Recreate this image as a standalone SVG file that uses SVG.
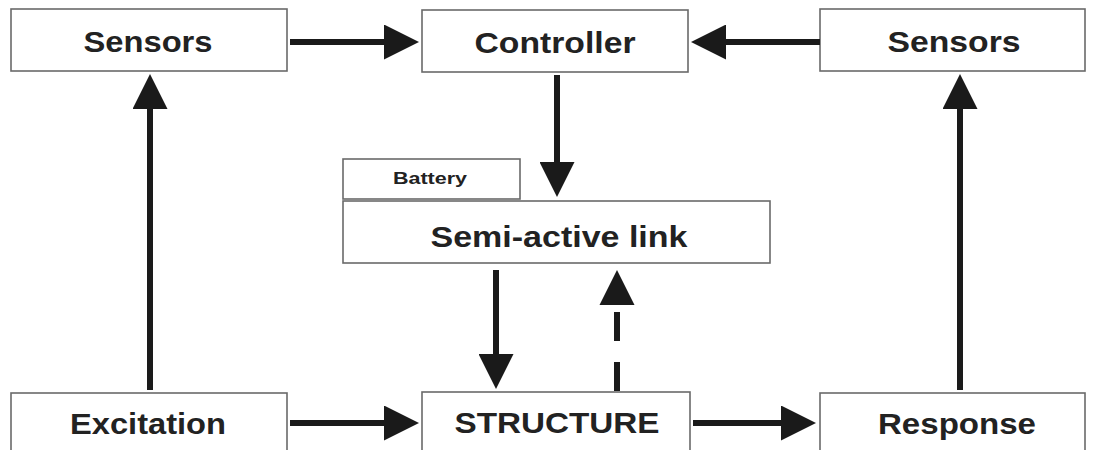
<svg xmlns="http://www.w3.org/2000/svg" width="1094" height="450" viewBox="0 0 1094 450">
  <style>
    .box { fill: #ffffff; stroke: #6a6a6a; stroke-width: 1.6; }
    .lbl { font-family: "Liberation Sans", Arial, sans-serif; font-weight: bold; font-size: 30px; fill: #222222; text-anchor: middle; }
    .small { font-size: 16.5px; }
    .wire { stroke: #1a1a1a; stroke-width: 6; fill: none; }
    .dash { stroke-dasharray: 29 21; }
  </style>
  <defs>
    <!-- head starts at the line end and extends 35px beyond it -->
    <marker id="head" viewBox="0 0 35 35" refX="0" refY="17.5" markerWidth="35" markerHeight="35" markerUnits="userSpaceOnUse" orient="auto">
      <path d="M0,0 L35,17.5 L0,35 Z" fill="#1a1a1a"/>
    </marker>
  </defs>
  <rect width="1094" height="450" fill="#ffffff"/>

  <g id="sensors-left">
    <rect class="box" x="11" y="9" width="276" height="62"/>
    <text class="lbl" x="148" y="52" textLength="129" lengthAdjust="spacingAndGlyphs">Sensors</text>
  </g>
  <g id="controller">
    <rect class="box" x="422" y="10" width="266" height="62"/>
    <text class="lbl" x="555" y="53" textLength="161" lengthAdjust="spacingAndGlyphs">Controller</text>
  </g>
  <g id="sensors-right">
    <rect class="box" x="820" y="9" width="265" height="62"/>
    <text class="lbl" x="954" y="52" textLength="133" lengthAdjust="spacingAndGlyphs">Sensors</text>
  </g>
  <g id="battery">
    <rect class="box" x="343" y="159" width="177" height="40"/>
    <text class="lbl small" x="430" y="184" textLength="74" lengthAdjust="spacingAndGlyphs">Battery</text>
  </g>
  <g id="semi-active-link">
    <rect class="box" x="343" y="201" width="427" height="62"/>
    <text class="lbl" x="559" y="247" textLength="257" lengthAdjust="spacingAndGlyphs">Semi-active link</text>
  </g>
  <g id="excitation">
    <rect class="box" x="11" y="393" width="276" height="62"/>
    <text class="lbl" x="148" y="434" textLength="156" lengthAdjust="spacingAndGlyphs">Excitation</text>
  </g>
  <g id="structure">
    <rect class="box" x="422" y="392" width="268" height="62"/>
    <text class="lbl" x="557" y="433" textLength="205" lengthAdjust="spacingAndGlyphs">STRUCTURE</text>
  </g>
  <g id="response">
    <rect class="box" x="820" y="393" width="265" height="62"/>
    <text class="lbl" x="957" y="434" textLength="158" lengthAdjust="spacingAndGlyphs">Response</text>
  </g>

  <g id="connectors">
    <line class="wire" x1="290" y1="42" x2="384" y2="42" marker-end="url(#head)"/>
    <line class="wire" x1="820" y1="42" x2="726" y2="42" marker-end="url(#head)"/>
    <line class="wire" x1="557" y1="75" x2="557" y2="162" marker-end="url(#head)"/>
    <line class="wire" x1="150" y1="390" x2="150" y2="109" marker-end="url(#head)"/>
    <line class="wire" x1="960" y1="390" x2="960" y2="109" marker-end="url(#head)"/>
    <line class="wire" x1="496" y1="270" x2="496" y2="354" marker-end="url(#head)"/>
    <line class="wire dash" x1="617" y1="391" x2="617" y2="305"/>
    <path d="M599.5,305 L617,270 L634.5,305 Z" fill="#1a1a1a"/>
    <line class="wire" x1="290" y1="423" x2="384" y2="423" marker-end="url(#head)"/>
    <line class="wire" x1="693" y1="423" x2="781" y2="423" marker-end="url(#head)"/>
  </g>
</svg>
